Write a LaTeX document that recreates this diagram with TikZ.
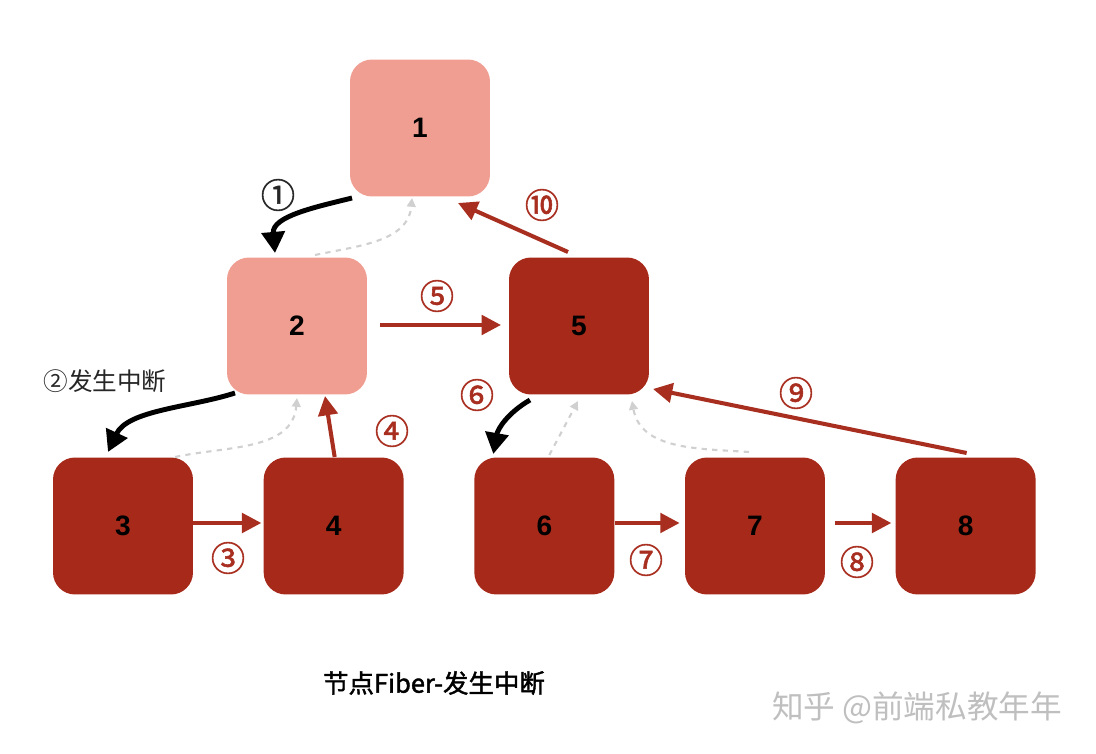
\documentclass[tikz,border=0pt]{standalone}
\usepackage{fontspec}
\setmainfont{Liberation Sans}
\newfontfamily\cjk{Noto Sans CJK SC}
\newfontfamily\cjkbold{Noto Sans CJK SC}[FakeBold=1.6]
\usetikzlibrary{positioning,calc,arrows.meta}

\definecolor{fiberpink}{RGB}{241,158,146}
\definecolor{fiberred}{RGB}{166,41,26}
\definecolor{arrowred}{RGB}{168,46,32}
\definecolor{backgray}{RGB}{208,208,208}

\begin{document}
\begin{tikzpicture}[
  x=0.02cm, y=0.02cm,
  fiber/.style={rectangle, rounded corners=0.44cm, minimum width=2.8cm,
                minimum height=2.74cm, text centered, font=\fontsize{16}{18}\selectfont\bfseries},
  done/.style={fiber, fill=fiberpink},
  todo/.style={fiber, fill=fiberred},
  interrupt/.style={draw=black, line width=2.8pt, -{Triangle[length=12pt, width=13pt]}},
  walk/.style={draw=arrowred, line width=2.3pt, -{Triangle[length=11pt, width=11pt]}},
  back/.style={draw=backgray, line width=1.2pt, dashed, -{Triangle[length=5pt, width=5pt]}},
  steplabel/.style={font=\cjkbold\fontsize{19.5}{20}\selectfont, text=arrowred, inner sep=0pt},
  every node/.style={font=\small}
]
\useasboundingbox (0,0) rectangle (1096,754);

% ==========================================================
% Fiber nodes
% ==========================================================
\node[done] (n1) at (420,626) {1};
\node[done] (n2) at (297,428) {2};
\node[todo] (n5) at (579,428) {5};
\node[todo] (n3) at (123,228) {3};
\node[todo, right=1.4cm of n3] (n4) {4};
\node[todo, right=1.4cm of n4] (n6) {6};
\node[todo, right=1.4cm of n6] (n7) {7};
\node[todo, right=1.4cm of n7] (n8) {8};

% ==========================================================
% Return links (dashed)
% ==========================================================
\draw[back] ($(n2)+(18,71)$) to[out=12, in=-95] ($(n1)+(-8,-70)$);
\draw[back] ($(n3)+(52,69)$) to[out=12, in=-95] ($(n2)+(0,-72)$);
\draw[back] ($(n6)+(5,71)$) -- ($(n5)+(-1,-75)$);
\draw[back] ($(n7)+(-6,74)$) to[out=176, in=-80] ($(n5)+(53,-75)$);

% ==========================================================
% Traversal
% ==========================================================
\draw[interrupt] ($(n1)+(-68,-70)$) to[out=194, in=95] ($(n2)+(-22,73)$);
\draw[interrupt] ($(n2)+(-62,-67)$) to[out=198, in=65, looseness=0.85] ($(n3)+(-15,74)$);
\draw[interrupt] ($(n5)+(-49,-74)$) to[out=210, in=80] ($(n6)+(-51,72)$);

\draw[walk] ($(n3.east)+(0,3)$) -- ($(n4.west)+(-2,3)$);
\draw[walk] ($(n4)+(1,69)$) -- ($(n2)+(28,-70)$);
\draw[walk] ($(n2)+(83,1)$) -- ($(n5)+(-78,1)$);
\draw[walk] ($(n6.east)+(0,3)$) -- ($(n7.west)+(-5,3)$);
\draw[walk] ($(n7.east)+(10,3)$) -- ($(n8.west)+(-4,3)$);
\draw[walk] ($(n8)+(1,73)$) -- ($(n5)+(74,-63)$);
\draw[walk] ($(n5)+(-11,74)$) -- ($(n1)+(38,-75)$);

% ==========================================================
% Step labels
% ==========================================================
\node[steplabel, text=black!85] (s1) at (278,559) {①};
\node[font=\cjk\fontsize{14}{16}\selectfont, text=black!85] (s2) at (105,373) {②发生中断};
\node[steplabel] (s3) at (228,196) {③};
\node[steplabel] (s4) at (392,323) {④};
\node[steplabel] (s5) at (437,458) {⑤};
\node[steplabel] (s6) at (477,359) {⑥};
\node[steplabel] (s7) at (646,194) {⑦};
\node[steplabel] (s8) at (857,192) {⑧};
\node[steplabel] (s9) at (796,361) {⑨};
\node[steplabel] (s10) at (542,549) {⑩};

% ==========================================================
% Caption
% ==========================================================
\node[font=\cjkbold\fontsize{14.5}{16}\selectfont] (caption) at (434,71) {节点Fiber-发生中断};
\node[font=\cjk\fontsize{18}{20}\selectfont, text=black!25] (mark) at (917,46) {知乎 @前端私教年年};

\end{tikzpicture}
\end{document}
